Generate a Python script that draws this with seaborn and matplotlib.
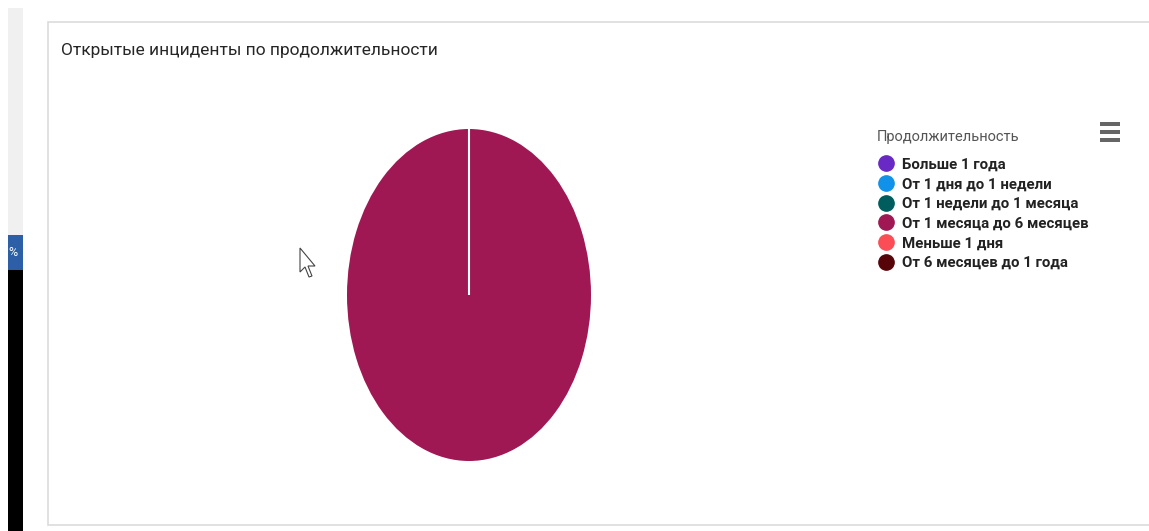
import matplotlib
matplotlib.use("Agg")
import matplotlib.pyplot as plt
from matplotlib.patches import Rectangle, Polygon
from matplotlib.lines import Line2D
import seaborn as sns

# ---- data ----
categories = [
    "Больше 1 года",
    "От 1 дня до 1 недели",
    "От 1 недели до 1 месяца",
    "От 1 месяца до 6 месяцев",
    "Меньше 1 дня",
    "От 6 месяцев до 1 года",
]
counts = [0, 0, 0, 1, 0, 0]
colors = ["#6929c4", "#1192e8", "#005d5d", "#9f1853", "#fa4d56", "#570408"]
title_text = "Открытые инциденты по продолжительности"
legend_title = "Продолжительность"

sns.set_theme(style="white")
plt.rcParams["font.family"] = ["Roboto", "DejaVu Sans"]

W, H = 1149, 531
fig = plt.figure(figsize=(W / 100, H / 100), dpi=100)
fig.patch.set_facecolor("white")

def px(x, y, w, h):
    return [x / W, 1 - (y + h) / H, w / W, h / H]

# left UI strip
fig.add_artist(Rectangle((8 / W, 1 - 235 / H), 15 / W, 227 / H, transform=fig.transFigure,
                         facecolor="#f0f0f0", edgecolor="none"))
fig.add_artist(Rectangle((8 / W, 1 - 270 / H), 15 / W, 35 / H, transform=fig.transFigure,
                         facecolor="#2d5fa6", edgecolor="none"))
fig.add_artist(Rectangle((8 / W, 0), 15 / W, 1 - 270 / H, transform=fig.transFigure,
                         facecolor="black", edgecolor="none"))
fig.text(8 / W, 1 - 253 / H, "%", color="white", fontsize=9, va="center", ha="left")

# card border
fig.add_artist(Rectangle((48 / W, 1 - 525 / H), (W + 10 - 48) / W, (525 - 22) / H,
                         transform=fig.transFigure, facecolor="white",
                         edgecolor="#dcdcdc", linewidth=1.2, zorder=0))

fig.text(61 / W, 1 - 50 / H, title_text, fontsize=12.5, color="#262626",
         va="center", ha="left")

# pie (elliptical as in reference)
ax = fig.add_axes(px(347, 129, 244, 332))
vals = [v for v in counts if v > 0]
cols = [c for v, c in zip(counts, colors) if v > 0]
ax.pie(vals, colors=cols, startangle=90, counterclock=False, radius=1,
       wedgeprops=dict(edgecolor="none"))
# slice boundary at the start angle (white separator line)
ax.plot([0, 0], [0, 1], color="white", linewidth=1.5, solid_capstyle="butt")
ax.set_aspect("auto")
ax.set_xlim(-1, 1)
ax.set_ylim(-1, 1)
ax.axis("off")

# legend
fig.text(877 / W, 1 - 137 / H, legend_title, fontsize=10.5, color="#555555",
         va="center", ha="left")
handles = [Line2D([0], [0], marker="o", linestyle="none", markersize=11,
                  markerfacecolor=c, markeredgecolor=c) for c in colors]
leg = fig.legend(handles, categories, loc="upper left",
                 bbox_to_anchor=(868 / W, 1 - 147 / H), frameon=False,
                 fontsize=10.8, handletextpad=0.55,
                 labelspacing=0.38, handlelength=1.0, borderpad=0.2)
for t in leg.get_texts():
    t.set_color("#222222")
    t.set_fontweight("bold")

# menu icon
for yy in (122, 130, 138):
    fig.add_artist(Rectangle((1100 / W, 1 - (yy + 4) / H), 20 / W, 4 / H,
                             transform=fig.transFigure, facecolor="#666666",
                             edgecolor="none"))

# mouse cursor
cur = [(300, 248), (300, 272), (305, 267), (309, 277), (312, 276), (308, 266), (315, 266)]
fig.add_artist(Polygon([(x / W, 1 - y / H) for x, y in cur], closed=True,
                       transform=fig.transFigure, facecolor="white",
                       edgecolor="#444444", linewidth=0.8))

fig.savefig("out.png", dpi=100)
